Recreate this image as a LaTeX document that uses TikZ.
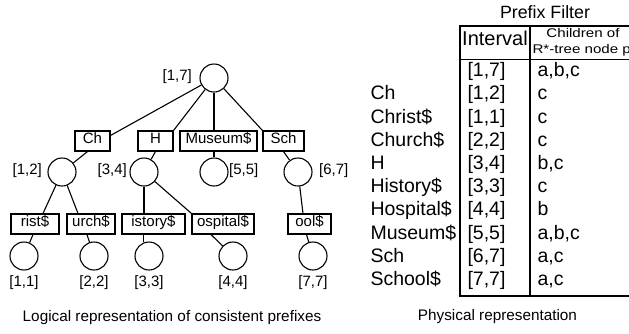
\documentclass[tikz,border=0pt]{standalone}
\usepackage{fontspec}
\setmainfont{Liberation Sans}
\usetikzlibrary{calc}
\newcommand{\fsz}[1]{\fontsize{#1}{#1}\selectfont}
\begin{document}
\begin{tikzpicture}[x=1pt,y=-1pt,line width=1.1pt,
  circ/.style={circle,draw,minimum size=28pt,inner sep=0pt},
  lbox/.style={draw,font=\fsz{15},inner sep=0pt,minimum height=20pt,text height=0.72em,text depth=0.2em},
  lbl/.style={font=\fsz{15},inner sep=0pt,text height=0.72em,text depth=0.2em},
  tcell/.style={font=\fsz{19.5},inner sep=0pt,anchor=west,text height=0.72em,text depth=0.2em},
  hcell/.style={font=\fsz{12.6},inner sep=0pt,text height=0.72em,text depth=0.2em},
  captxt/.style={font=\fsz{15.3},inner sep=0pt}]
\useasboundingbox (0,0) rectangle (629,333);
\clip (0,0) rectangle (629,333);
% tree nodes
\node[circ] (root) at (214,78) {};
\node[lbox,minimum width=35pt] (ch) at (92.5,141) {Ch};
\node[lbox,minimum width=35pt] (h) at (155.5,141) {H};
\node[lbox,minimum width=77pt] (mus) at (218.5,141) {Museum\$};
\node[lbox,minimum width=41pt] (sch) at (283.5,141) {Sch};
\node[circ] (c12) at (62,172) {};
\node[circ] (c34) at (144,172) {};
\node[circ] (c55) at (214,172) {};
\node[circ] (c67) at (298,172) {};
\node[lbox,minimum width=48pt] (rist) at (35,224) {rist\$};
\node[lbox,minimum width=48pt] (urch) at (91,224) {urch\$};
\node[lbox,minimum width=63pt] (istory) at (153.5,224) {istory\$};
\node[lbox,minimum width=62pt] (ospital) at (223,224) {ospital\$};
\node[lbox,minimum width=43pt] (ool) at (309.5,224) {ool\$};
\node[circ] (c11) at (24,256) {};
\node[circ] (c22) at (94,256) {};
\node[circ] (c33) at (149,256) {};
\node[circ] (c44) at (233,256) {};
\node[circ] (c77) at (313,256) {};
% labels
\node[lbl,anchor=east] (l17) at ([xshift=-7pt]root.west) {[1,7]};
\node[lbl,anchor=east] (l12) at ([xshift=-5pt]c12.west) {[1,2]};
\node[lbl,anchor=east] (l34) at ([xshift=-2pt]c34.west) {[3,4]};
\node[lbl,anchor=west] (l55) at ([xshift=0pt]c55.east) {[5,5]};
\node[lbl,anchor=west] (l67) at ([xshift=6pt]c67.east) {[6,7]};
\node[lbl] (l11) at ([yshift=-13pt]c11.south) {[1,1]};
\node[lbl] (l22) at ([yshift=-13pt]c22.south) {[2,2]};
\node[lbl] (l33) at ([yshift=-13pt]c33.south) {[3,3]};
\node[lbl] (l44) at ([yshift=-13pt]c44.south) {[4,4]};
\node[lbl] (l77) at ([yshift=-13pt]c77.south) {[7,7]};
% connectors
\draw (root) -- ([yshift=-5pt]ch.north east);
\draw (root) -- (h.north east);
\draw (root.south) -- (root.south |- mus.north);
\draw (root) -- (sch.north west);
\draw ([xshift=-5pt]ch.south) -- (c12);
\draw (h.south) -- (c34);
\draw (mus.south -| c55) -- (c55.north);
\draw (sch.south) -- (c67);
\draw (c12) -- ([xshift=8pt]rist.north);
\draw (c12) -- ([xshift=-13pt]urch.north);
\draw (c34.south) -- (c34.south |- istory.north);
\draw (c34) -- (ospital.north west);
\draw (c67) -- ([xshift=-6.5pt]ool.north);
\draw ([xshift=-2pt]rist.south) -- (c11);
\draw ([xshift=-4pt]urch.south) -- (c22);
\draw (c33.111 |- istory.south) -- (c33.111);
\draw ([xshift=-12pt]ospital.south) -- (c44);
\draw ([xshift=-3pt]ool.south) -- (c77);
% captions
\node[captxt] (capL) at (172,318) {Logical representation of consistent prefixes};
\node[captxt] (capR) at (497.5,317) {Physical representation};
% table
\node[font=\fsz{17.8},inner sep=0pt] (pf) at (545,12) {Prefix Filter};
\draw (640,26) -- (460,26) -- (460,296) -- (640,296);
\draw (460,59.5) -- (640,59.5);
\draw (530,26) -- (530,296);
\node[font=\fsz{20},inner sep=0pt,text height=0.72em,text depth=0.2em] (hint) at (495,43) {Interval};
\node[hcell] (hch1) at (583,34.5) {\scalebox{1.2}[1]{Children of}};
\node[hcell,anchor=west] (hch2) at (532,51) {\scalebox{1.2}[1]{R*-tree node p}};
\foreach \i/\lab/\iv/\ch in {0//{[1,7]}/{a,b,c},1/Ch/{[1,2]}/c,2/Christ\$/{[1,1]}/c,3/Church\$/{[2,2]}/c,4/H/{[3,4]}/{b,c},5/History\$/{[3,3]}/c,6/Hospital\$/{[4,4]}/b,7/Museum\$/{[5,5]}/{a,b,c},8/Sch/{[6,7]}/{a,c},9/School\$/{[7,7]}/{a,c}}{
  \node[tcell] (rl\i) at (370,74+23.2*\i) {\lab};
  \node[tcell] (ri\i) at (467,74+23.2*\i) {\iv};
  \node[tcell] (rc\i) at (537,74+23.2*\i) {\ch};
}
\end{tikzpicture}
\end{document}
